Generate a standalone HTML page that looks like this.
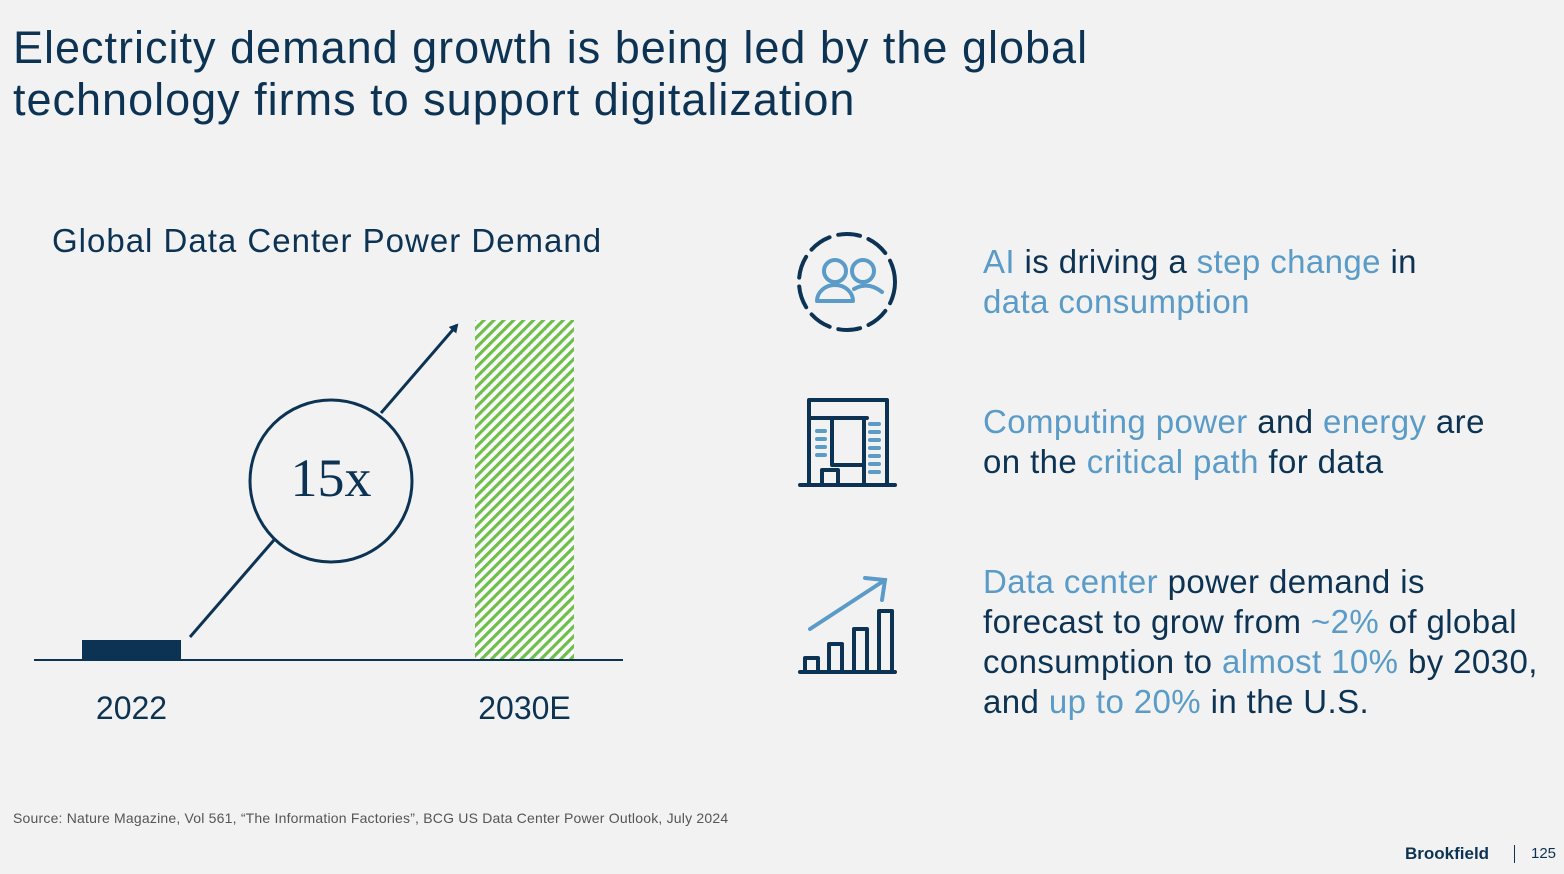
<!DOCTYPE html>
<html><head><meta charset="utf-8">
<style>
*{margin:0;padding:0;box-sizing:border-box}
body{width:1564px;height:874px;background:#f2f2f2;font-family:"Liberation Sans",sans-serif;color:#0d3354;position:relative;overflow:hidden}
.title{position:absolute;left:13px;top:22px;font-size:45px;line-height:52px;color:#0d3354;letter-spacing:1.0px;white-space:nowrap}
.ctitle{position:absolute;left:52px;top:222px;font-size:33px;color:#0d3354;letter-spacing:1px;white-space:nowrap}
.item{position:absolute;left:983px;font-size:33px;line-height:40px;color:#0d3354;letter-spacing:0.4px;white-space:nowrap}
.hl{color:#5a9bc9}
.src{position:absolute;left:13px;top:810px;font-size:14px;color:#555;letter-spacing:0.2px;white-space:nowrap}
.brand{position:absolute;left:1405px;top:844px;font-size:17px;font-weight:bold;color:#0d3354}
.sep{position:absolute;left:1514px;top:845px;width:1px;height:18px;background:#0d3354}
.pg{position:absolute;left:1531px;top:845px;font-size:15px;color:#0d3354}
</style></head><body>
<div class="title">Electricity demand growth is being led by the global<br>technology firms to support digitalization</div>
<div class="ctitle">Global Data Center Power Demand</div>

<svg id="chart" width="700" height="560" style="position:absolute;left:0;top:200px" viewBox="0 200 700 560">
<defs>
<pattern id="hatch" width="7" height="7" patternUnits="userSpaceOnUse" patternTransform="rotate(45)">
<rect width="7" height="7" fill="#ffffff"/>
<rect x="0" y="0" width="3.2" height="7" fill="#6cc04a"/>
</pattern>
<marker id="ah" markerWidth="10" markerHeight="10" refX="7" refY="5" orient="auto" markerUnits="userSpaceOnUse">
<path d="M0,0 L9,5 L0,10 Z" fill="#0d3354"/>
</marker>
</defs>
<g id="bars"></g>
<line x1="34" y1="660" x2="623" y2="660" stroke="#0d3354" stroke-width="2"/>
<line x1="190" y1="637" x2="274" y2="540" stroke="#0d3354" stroke-width="3"/>
<line x1="381" y1="413" x2="457" y2="325" stroke="#0d3354" stroke-width="3" marker-end="url(#ah)"/>
<circle cx="331" cy="481" r="81" fill="none" stroke="#0d3354" stroke-width="3"/>
<text x="331" y="496" text-anchor="middle" font-family="Liberation Serif,serif" font-size="54" fill="#0d3354">15x</text>
<g id="xlabels"></g>
</svg>

<svg style="position:absolute;left:790px;top:225px" width="120" height="115">
<circle cx="57" cy="57" r="48" fill="none" stroke="#0d3354" stroke-width="4" stroke-dasharray="22 9" stroke-linecap="round"/>
<circle cx="45" cy="46" r="11" fill="none" stroke="#5a9bc9" stroke-width="4"/>
<circle cx="73" cy="46" r="11" fill="none" stroke="#5a9bc9" stroke-width="4"/>
<path d="M27,76 A18,16 0 0 1 63,76 Z" fill="none" stroke="#5a9bc9" stroke-width="4" stroke-linejoin="round"/>
<path d="M64,64 Q78,56 92,67" fill="none" stroke="#5a9bc9" stroke-width="4" stroke-linecap="round"/>
</svg>
<svg style="position:absolute;left:795px;top:395px" width="105" height="95">
<g fill="none" stroke="#0d3354" stroke-width="4" stroke-linejoin="round" stroke-linecap="round">
<rect x="14" y="5" width="78" height="85"/>
<line x1="5" y1="90" x2="100" y2="90"/>
<line x1="14" y1="23" x2="72" y2="23"/>
<path d="M37,23 V70 H68"/>
<line x1="69" y1="23" x2="69" y2="90"/>
<rect x="27" y="75" width="16" height="15"/>
</g>
<g stroke="#5a9bc9" stroke-width="4" stroke-linecap="round">
<line x1="22" y1="36" x2="30" y2="36"/><line x1="22" y1="44" x2="30" y2="44"/><line x1="22" y1="52" x2="30" y2="52"/><line x1="22" y1="60" x2="30" y2="60"/>
<line x1="75" y1="29" x2="84" y2="29"/><line x1="75" y1="37" x2="84" y2="37"/><line x1="75" y1="45" x2="84" y2="45"/><line x1="75" y1="53" x2="84" y2="53"/><line x1="75" y1="61" x2="84" y2="61"/><line x1="75" y1="69" x2="84" y2="69"/><line x1="75" y1="77" x2="84" y2="77"/>
</g>
</svg>
<svg style="position:absolute;left:795px;top:570px" width="110" height="110">
<g fill="none" stroke="#0d3354" stroke-width="4" stroke-linejoin="round" stroke-linecap="round">
<line x1="5" y1="102" x2="100" y2="102"/>
<rect x="10" y="88" width="13" height="14"/>
<rect x="34" y="74" width="13" height="28"/>
<rect x="59" y="59" width="13" height="43"/>
<rect x="84" y="41" width="13" height="61"/>
</g>
<g fill="none" stroke="#5a9bc9" stroke-width="4" stroke-linecap="round">
<line x1="15" y1="59" x2="90" y2="10"/>
<path d="M70,8 L90,10 L87,30"/>
</g>
</svg>

<div class="item" style="top:242px"><span class="hl">AI</span> is driving a <span class="hl">step change</span> in<br><span class="hl">data consumption</span></div>
<div class="item" style="top:402px"><span class="hl">Computing power</span> and <span class="hl">energy</span> are<br>on the <span class="hl">critical path</span> for data</div>
<div class="item" style="top:562px"><span class="hl">Data center</span> power demand is<br>forecast to grow from <span class="hl">~2%</span> of global<br>consumption to <span class="hl">almost 10%</span> by 2030,<br>and <span class="hl">up to 20%</span> in the U.S.</div>

<div class="src">Source: Nature Magazine, Vol 561, “The Information Factories”, BCG US Data Center Power Outlook, July 2024</div>
<div class="brand">Brookfield</div>
<div class="sep"></div>
<div class="pg">125</div>

<script>
const categories = ["2022", "2030E"];
const values = [1, 17];
const fills = ["solid", "hatch"];
const baseY = 660, maxV = 17, plotH = 340;
function yScale(v){ return baseY - v / maxV * plotH; }
function xScale(i){ return 82 + i * 393; }
const barW = 99;
const ns = "http://www.w3.org/2000/svg";
const bars = document.getElementById('bars');
const xl = document.getElementById('xlabels');
categories.forEach((c, i) => {
  const r = document.createElementNS(ns, 'rect');
  r.setAttribute('x', xScale(i));
  r.setAttribute('y', yScale(values[i]));
  r.setAttribute('width', barW);
  r.setAttribute('height', baseY - yScale(values[i]));
  r.setAttribute('fill', fills[i] === 'hatch' ? 'url(#hatch)' : '#0d3354');
  
  
  bars.appendChild(r);
  const t = document.createElementNS(ns, 'text');
  t.setAttribute('x', xScale(i) + barW / 2);
  t.setAttribute('y', 719);
  t.setAttribute('text-anchor', 'middle');
  t.setAttribute('font-size', '32');
  t.setAttribute('fill', '#0d3354');
  t.textContent = c;
  
  
  xl.appendChild(t);
});
</script>
</body></html>
